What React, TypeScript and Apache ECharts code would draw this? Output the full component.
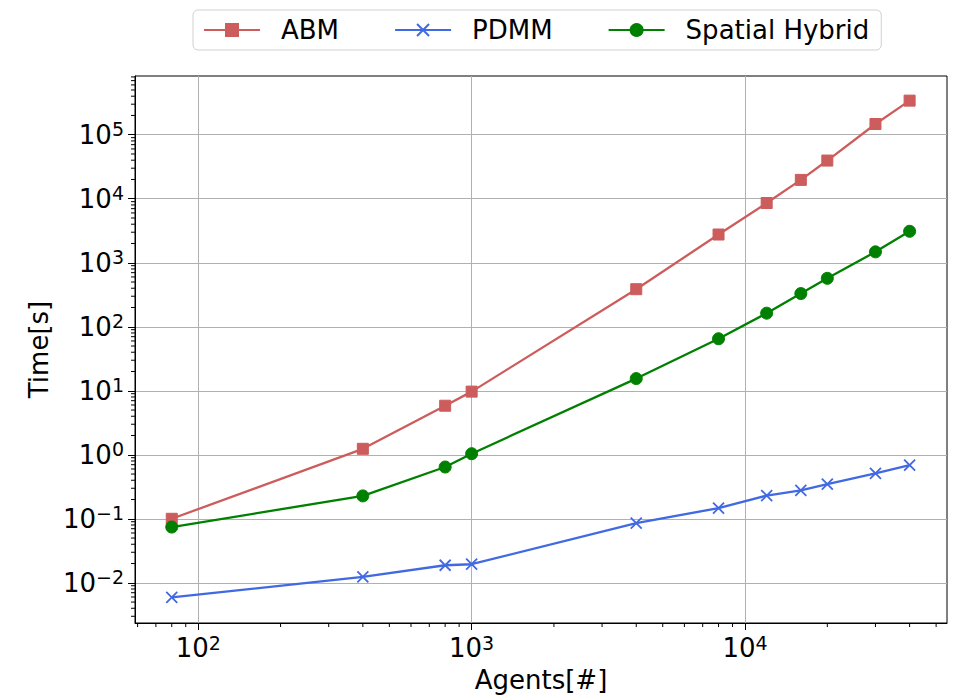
import React, { useEffect, useRef } from "react";
import * as echarts from "echarts";

// Number of agents simulated
const agents = [80, 400, 800, 1000, 4000, 8000, 12000, 16000, 20000, 30000, 40000];

// Wall-clock time in seconds for each model
const abmTime = [0.1, 1.24, 5.84, 9.7, 386, 2760, 8570, 19700, 39500, 147000, 341000];
const pdmmTime = [0.0059, 0.0124, 0.0188, 0.0195, 0.0857, 0.147, 0.231, 0.277, 0.347, 0.513, 0.69];
const hybridTime = [0.0743, 0.228, 0.644, 1.04, 15.5, 65, 163, 330, 571, 1480, 3100];

const seriesNames = ["ABM", "PDMM", "Spatial Hybrid"];

// Major (labelled) decade ticks
const xMajorTicks = [100, 1000, 10000];
const yMajorTicks = [0.01, 0.1, 1, 10, 100, 1000, 10000, 100000];

const X_MIN = 58.7;
const X_MAX = 54800;
const Y_MIN = 0.002355;
const Y_MAX = 827000;

const FONT = "DejaVu Sans";

// 2..9 x 10^n positions between lo and hi
function minorTicks(lo: number, hi: number): number[] {
  const out: number[] = [];
  for (let e = Math.floor(Math.log10(lo)); e <= Math.ceil(Math.log10(hi)); e++) {
    for (let m = 2; m <= 9; m++) {
      const v = m * Math.pow(10, e);
      if (v >= lo && v <= hi) out.push(v);
    }
  }
  return out;
}

const powerLabel = (v: number) => {
  const e = Math.round(Math.log10(v));
  const s = e < 0 ? "\u2212" + Math.abs(e) : String(e);
  return `{b|10}{e|${s}}`;
};

const labelRich = {
  b: { fontSize: 26, lineHeight: 30, fontFamily: FONT, color: "#000" },
  e: { fontSize: 19, lineHeight: 16, verticalAlign: "top", fontFamily: FONT, color: "#000" },
};

export default function App() {
  const ref = useRef<HTMLDivElement>(null);

  useEffect(() => {
    if (!ref.current) return;
    const chart = echarts.init(ref.current, undefined, { renderer: "svg" });

    const xMinor = minorTicks(X_MIN, X_MAX);
    const yMinor = minorTicks(Y_MIN, Y_MAX);

    const lineSeries = (name: string, values: number[], color: string, symbol: string, size: number, border: number) => ({
      name,
      type: "line",
      data: agents.map((a, i) => [a, values[i]]),
      symbol,
      symbolSize: size,
      showAllSymbol: true,
      lineStyle: { color, width: 2.3 },
      itemStyle: { color, borderColor: color, borderWidth: border },
      emphasis: { disabled: true },
      z: 3,
    });

    chart.setOption({
      animation: false,
      backgroundColor: "#fff",
      textStyle: { fontFamily: FONT },
      grid: {
        left: 135,
        top: 76,
        width: 812,
        height: 550,
        show: true,
        borderColor: "#000",
        borderWidth: 1,
        containLabel: false,
      },
      legend: {
        data: seriesNames,
        left: 193,
        top: 10,
        padding: [7, 12, 7, 10],
        itemWidth: 56,
        itemHeight: 15,
        itemGap: 55,
        borderColor: "#d0d0d0",
        borderWidth: 1,
        borderRadius: 5,
        backgroundColor: "#fff",
        selectedMode: false,
        formatter: (name: string) => `{t|${name}}`,
        textStyle: {
          fontSize: 26,
          fontFamily: FONT,
          color: "#000",
          rich: { t: { fontSize: 26, fontFamily: FONT, color: "#000", padding: [0, 0, 0, 16] } },
        },
      },
      xAxis: {
        type: "log",
        logBase: 10,
        min: X_MIN,
        max: X_MAX,
        name: "Agents[#]",
        nameLocation: "middle",
        nameGap: 44,
        nameTextStyle: { fontSize: 26, fontFamily: FONT, color: "#000" },
        axisLine: { show: true, lineStyle: { color: "#000", width: 1 } },
        axisTick: { show: true, customValues: xMajorTicks, length: 7, lineStyle: { color: "#000", width: 1 } },
        axisLabel: { customValues: xMajorTicks, margin: 10, formatter: powerLabel, rich: labelRich },
        splitLine: { show: true, lineStyle: { color: "#b0b0b0", width: 1 } },
        minorTick: { show: false },
      },
      yAxis: {
        type: "log",
        logBase: 10,
        min: Y_MIN,
        max: Y_MAX,
        name: "Time[s]",
        nameLocation: "middle",
        nameGap: 80,
        nameRotate: 90,
        nameTextStyle: { fontSize: 26, fontFamily: FONT, color: "#000" },
        axisLine: { show: true, lineStyle: { color: "#000", width: 1 } },
        axisTick: { show: true, customValues: yMajorTicks, length: 7, lineStyle: { color: "#000", width: 1 } },
        axisLabel: { customValues: yMajorTicks, margin: 11, formatter: powerLabel, rich: labelRich },
        splitLine: { show: true, lineStyle: { color: "#b0b0b0", width: 1 } },
        minorTick: { show: false },
      },
      series: [
        lineSeries("ABM", abmTime, "#cd5c5c", "rect", 11, 1),
        lineSeries("PDMM", pdmmTime, "#4169e1", "path://M0,0L10,10M10,0L0,10", 11, 1.8),
        lineSeries("Spatial Hybrid", hybridTime, "#008000", "circle", 12, 1),
        {
          // minor ticks along the bottom axis
          type: "custom",
          silent: true,
          clip: false,
          data: xMinor.map((v) => [v, Y_MIN]),
          renderItem: (_p: any, api: any) => {
            const pt = api.coord([api.value(0), api.value(1)]);
            return {
              type: "line",
              shape: { x1: pt[0], y1: pt[1], x2: pt[0], y2: pt[1] + 4 },
              style: { stroke: "#000", lineWidth: 1 },
            };
          },
          z: 5,
        },
        {
          // minor ticks along the left axis
          type: "custom",
          silent: true,
          clip: false,
          data: yMinor.map((v) => [X_MIN, v]),
          renderItem: (_p: any, api: any) => {
            const pt = api.coord([api.value(0), api.value(1)]);
            return {
              type: "line",
              shape: { x1: pt[0], y1: pt[1], x2: pt[0] - 4, y2: pt[1] },
              style: { stroke: "#000", lineWidth: 1 },
            };
          },
          z: 5,
        },
      ],
    });

    return () => chart.dispose();
  }, []);

  return (
    <div
      ref={ref}
      style={{ position: "fixed", left: 0, top: 0, width: 954, height: 698, background: "#fff" }}
    />
  );
}
